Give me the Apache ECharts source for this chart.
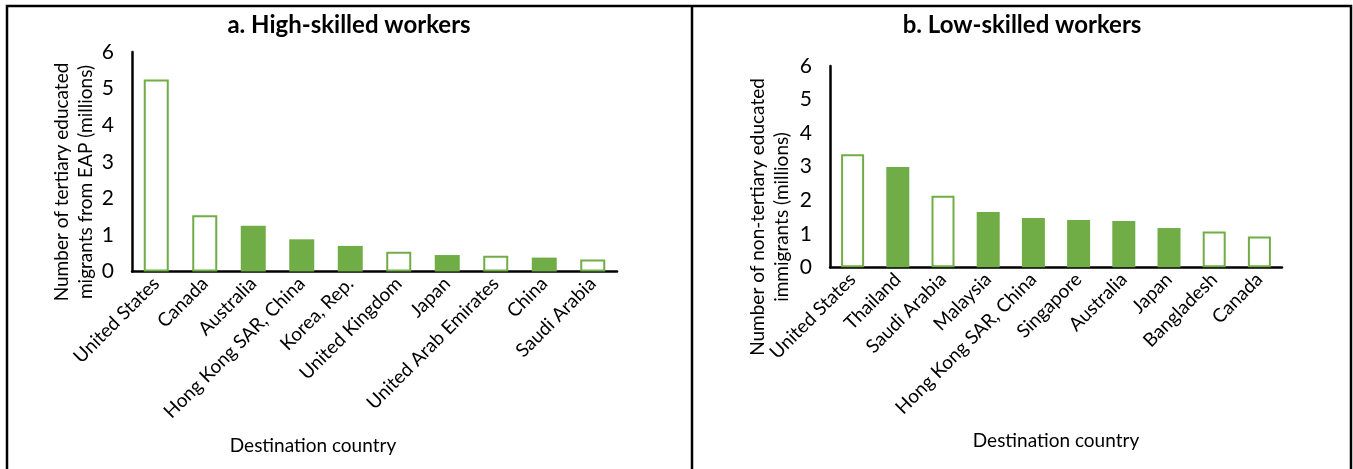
<!DOCTYPE html>
<html>
<head>
<meta charset="utf-8">
<script src="https://cdn.jsdelivr.net/npm/echarts@6/dist/echarts.min.js"></script>
<style>
  html, body { margin: 0; padding: 0; background: #fff; }
  #chart { width: 1353px; height: 469px; }
</style>
</head>
<body>
<div id="chart"></div>
<script>
// Panel a: tertiary-educated migrants from EAP by destination (millions)
const highCountries = ['United States', 'Canada', 'Australia', 'Hong Kong SAR, China', 'Korea, Rep.',
  'United Kingdom', 'Japan', 'United Arab Emirates', 'China', 'Saudi Arabia'];
const highValues = [5.25, 1.54, 1.25, 0.88, 0.70, 0.54, 0.45, 0.43, 0.38, 0.33];
// true = destination inside EAP (solid bar), false = outside (outlined bar)
const highInEAP = [false, false, true, true, true, false, true, false, true, false];

// Panel b: non-tertiary-educated immigrants by destination (millions)
const lowCountries = ['United States', 'Thailand', 'Saudi Arabia', 'Malaysia', 'Hong Kong SAR, China',
  'Singapore', 'Australia', 'Japan', 'Bangladesh', 'Canada'];
const lowValues = [3.37, 2.99, 2.13, 1.65, 1.47, 1.41, 1.38, 1.17, 1.07, 0.92];
const lowInEAP = [false, true, false, true, true, true, true, true, false, false];

const yTicks = [0, 1, 2, 3, 4, 5, 6];

const GREEN = '#70AD47';
const FONT = 'Lato';

function barData(values, inEAP) {
  return values.map((v, i) => ({
    value: v,
    itemStyle: inEAP[i]
      ? { color: GREEN, borderWidth: 0 }
      : { color: '#ffffff', borderColor: GREEN, borderWidth: 2 }
  }));
}

function xAxis(gridIndex, cats) {
  return {
    type: 'category', gridIndex, data: cats,
    axisLine: { lineStyle: { color: '#000', width: 2.5 } },
    axisTick: { show: false },
    axisLabel: { rotate: 45, color: '#000', fontFamily: FONT, fontSize: 19, margin: 9, interval: 0 }
  };
}

function yAxis(gridIndex) {
  return {
    type: 'value', gridIndex, min: yTicks[0], max: yTicks[yTicks.length - 1], interval: 1,
    splitLine: { show: false },
    axisLine: { show: true, lineStyle: { color: '#000', width: 2.5 } },
    axisTick: { show: false },
    axisLabel: { color: '#000', fontFamily: FONT, fontSize: 21, margin: 18 }
  };
}

function vText(x, y, text) {
  return {
    type: 'text', x, y, rotation: Math.PI / 2,
    style: { text, fill: '#000', font: '19px ' + FONT, align: 'center', verticalAlign: 'middle' }
  };
}

function hText(x, y, text, bold, size) {
  return {
    type: 'text', x, y,
    style: { text, fill: '#000', font: (bold ? 'bold ' : '') + size + 'px ' + FONT,
      align: 'center', verticalAlign: 'middle' }
  };
}

const frame = { stroke: '#000', lineWidth: 2.5 };

const chart = echarts.init(document.getElementById('chart'), null, { renderer: 'canvas' });
chart.setOption({
  animation: false,
  backgroundColor: '#fff',
  grid: [
    { left: 132, right: 736, top: 52, bottom: 197.5 },
    { left: 830, right: 71, top: 66, bottom: 201.7 }
  ],
  xAxis: [xAxis(0, highCountries), xAxis(1, lowCountries)],
  yAxis: [yAxis(0), yAxis(1)],
  series: [
    { type: 'bar', xAxisIndex: 0, yAxisIndex: 0, barWidth: 25, data: barData(highValues, highInEAP) },
    { type: 'bar', xAxisIndex: 1, yAxisIndex: 1, barWidth: 23, data: barData(lowValues, lowInEAP) }
  ],
  graphic: [
    // panel frames
    { type: 'polyline', shape: { points: [[7, 469], [7, 6], [1351, 6], [1351, 469]] }, style: Object.assign({ fill: null }, frame) },
    { type: 'line', shape: { x1: 692, y1: 6, x2: 692, y2: 469 }, style: frame },
    // panel titles
    hText(349, 25, 'a. High-skilled workers', true, 24),
    hText(1022, 25, 'b. Low-skilled workers', true, 24),
    // y-axis titles
    vText(62, 182, 'Number of tertiary educated'),
    vText(86, 182, 'migrants from EAP (millions)'),
    vText(758, 217, 'Number of non-tertiary educated'),
    vText(782, 217, 'immigrants (millions)'),
    // x-axis titles
    hText(313, 446, 'Destination country', false, 19),
    hText(1056, 441, 'Destination country', false, 19)
  ]
});
</script>
</body>
</html>
